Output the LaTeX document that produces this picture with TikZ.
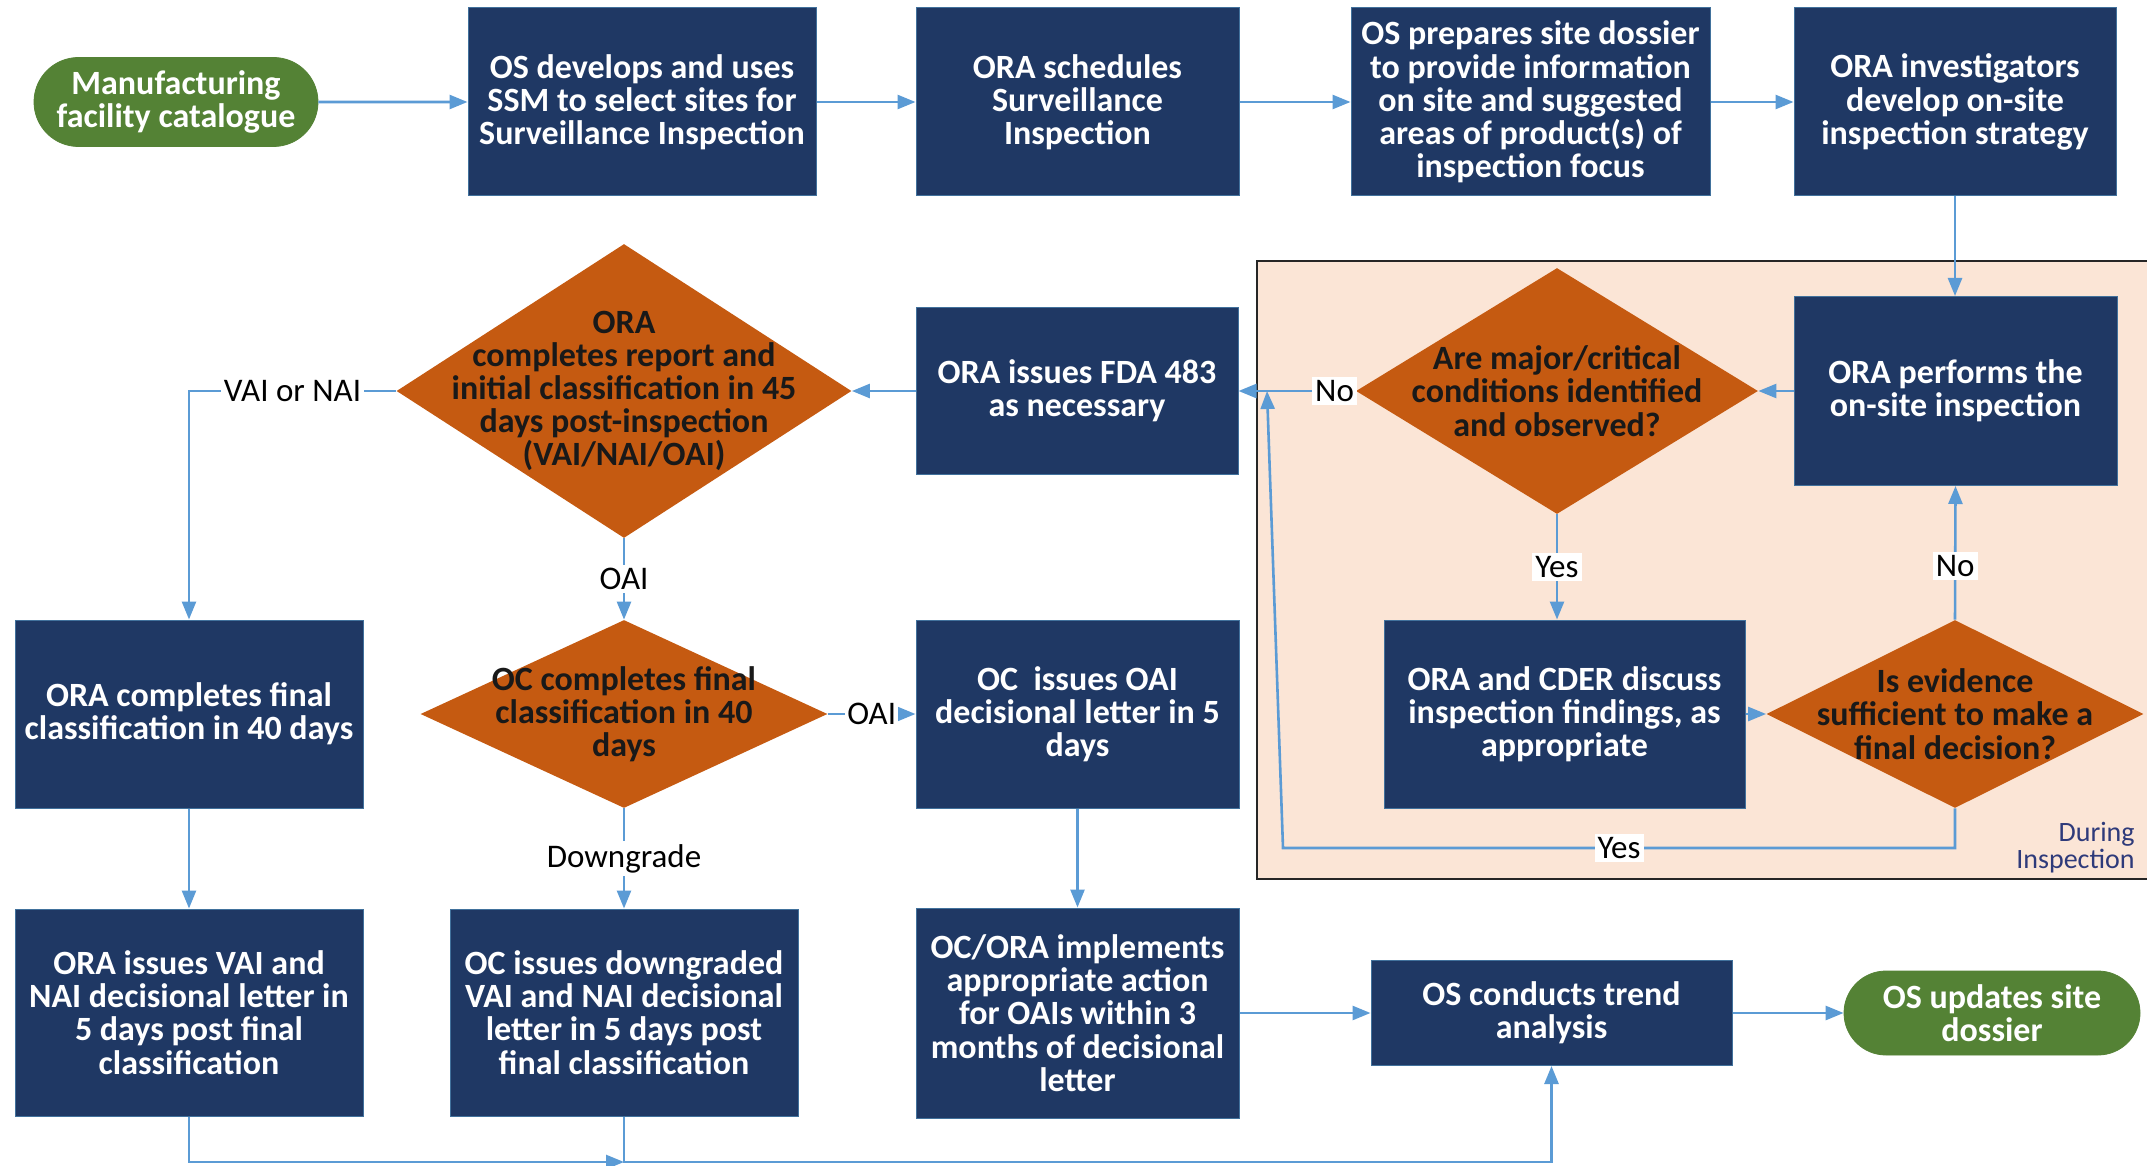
\documentclass[tikz,border=0pt]{standalone}
\usepackage{fontspec}
\setmainfont{Carlito}
\usetikzlibrary{arrows.meta,shapes.geometric,shapes.misc}

\definecolor{navy}{HTML}{1F3864}
\definecolor{rust}{HTML}{C55A11}
\definecolor{leaf}{HTML}{548235}
\definecolor{peach}{HTML}{FBE5D6}
\definecolor{flow}{HTML}{5B9BD5}
\definecolor{rim}{HTML}{41719C}
\definecolor{inknavy}{HTML}{2E3A7A}

\newcommand\boxfont{\bfseries\fontsize{17}{16.6}\selectfont}
\newcommand\tagfont{\fontsize{16.5}{18}\selectfont}

\tikzset{
  sz/.style 2 args={minimum width=#1*0.5pt, minimum height=#2*0.5pt},
  proc/.style={rectangle, fill=navy, draw=rim, line width=0.5pt, text=white,
    font=\boxfont, align=center, inner sep=0pt},
  term/.style={rounded rectangle, fill=leaf, draw=leaf, text=white,
    font=\boxfont, align=center, inner sep=0pt},
  dec/.style={diamond, fill=rust, inner sep=0pt},
  dectext/.style={text=black!90, font=\boxfont, align=center, inner sep=0pt},
  flowline/.style={draw=flow, line width=1.3pt, -{Triangle[length=9pt,width=7pt]}},
  flowplain/.style={draw=flow, line width=1.3pt},
  tag/.style={fill=white, font=\tagfont, text=black, inner sep=1.5pt},
}

\begin{document}
\begin{tikzpicture}[x=0.5pt, y=-0.5pt]
\useasboundingbox (0,0) rectangle (2147,1166);
\fill[white] (0,0) rectangle (2147,1166);

% inspection phase frame
\draw[fill=peach, draw=black!85, line width=1pt] (1257,261) rectangle (2170,879);
\node[anchor=south east, align=right, text=inknavy, inner sep=0pt,
      font=\fontsize{14}{12}\selectfont] (phase) at (2135,873) {During\\Inspection};

% top row
\node[term, sz={284}{89}] (start) at (176,102) {Manufacturing\\facility catalogue};
\node[proc, sz={348}{188}] (ssm) at (642,102) {OS develops and uses\\SSM to select sites for\\Surveillance Inspection};
\node[proc, sz={323}{188}] (sched) at (1077.5,102) {ORA schedules\\Surveillance\\Inspection};
\node[proc, sz={359}{188}] (dossier) at (1530.5,102) {OS prepares site dossier\\to provide information\\on site and suggested\\areas of product(s) of\\inspection focus};
\node[proc, sz={322}{188}] (strategy) at (1955,102) {ORA investigators\\develop on-site\\inspection strategy};

% second row
\node[proc, sz={323}{189}] (perform) at (1955.5,391) {ORA performs the\\on-site inspection};
\node[dec, sz={402}{246}] (major) at (1557,391) {};
\node[dectext] (majort) at (major) {Are major/critical\\conditions identified\\and observed?};
\node[proc, sz={322}{166}] (fda) at (1077,391) {ORA issues FDA 483\\as necessary};
\node[dec, sz={455}{294}] (report) at (624,391) {};
\node[dectext] (reportt) at (report) {ORA\\completes report and\\initial classification in 45\\days post-inspection\\(VAI/NAI/OAI)};

% third row
\node[proc, sz={348}{188}] (orafinal) at (189,714) {ORA completes final\\classification in 40 days};
\node[dec, sz={407}{188}] (ocfinal) at (624,714) {};
\node[dectext] (ocfinalt) at (ocfinal) {OC completes final\\classification in 40\\days};
\node[proc, sz={323}{188}] (oailetter) at (1077.5,714) {OC\ \ issues OAI\\decisional letter in 5\\days};
\node[proc, sz={361}{188}] (discuss) at (1564.5,714) {ORA and CDER discuss\\inspection findings, as\\appropriate};
\node[dec, sz={377}{188}] (evidence) at (1955,714) {};
\node[dectext] (evidencet) at (evidence) {Is evidence\\sufficient to make a\\final decision?};

% bottom row
\node[proc, sz={348}{207}] (vailetter) at (189,1012.5) {ORA issues VAI and\\NAI decisional letter in\\5 days post final\\classification};
\node[proc, sz={348}{207}] (downletter) at (624,1012.5) {OC issues downgraded\\VAI and NAI decisional\\letter in 5 days post\\final classification};
\node[proc, sz={323}{210}] (action) at (1077.5,1013) {OC/ORA implements\\appropriate action\\for OAIs within 3\\months of decisional\\letter};
\node[proc, sz={361}{105}] (trend) at (1551.5,1013) {OS conducts trend\\analysis};
\node[term, sz={296}{84}] (update) at (1992,1013) {OS updates site\\dossier};

% helper points for routed connectors
\coordinate (join) at (624,1162);
\coordinate (loop) at (1283,848);
\coordinate (loopend) at (1267,391);

% connectors
\draw[flowline] (start) -- (ssm);
\draw[flowline] (ssm) -- (sched);
\draw[flowline] (sched) -- (dossier);
\draw[flowline] (dossier) -- (strategy);
\draw[flowline] (strategy.south) -- (strategy.south |- perform.north);
\draw[flowline] (perform.west) -- (major.east);
\draw[flowline] (major.west) -- node[tag, pos=0.18] (tno) {No} (fda.east);
\draw[flowline] (major.south) -- node[tag] (tyes) {Yes} (major.south |- discuss.north);
\draw[flowline] (discuss.east) -- (evidence.west);
\draw[flowline] (evidence.north) -- node[tag, pos=0.4] (tno2) {No} (perform.south);
\draw[flowline] (evidence.south) -- (evidence.south |- loop)
  -- node[tag] (tyes2) {Yes} (loop) -- (loopend);
\draw[flowline] (fda.west) -- (report.east);
\draw[flowline] (report.west) -| node[tag, pos=0.25] (tvai) {VAI or NAI} (orafinal.north);
\draw[flowline] (report.south) -- node[tag] (toai) {OAI} (ocfinal.north);
\draw[flowline] (ocfinal.east) -- node[tag, inner xsep=1pt] (toai2) {OAI} (oailetter.west);
\draw[flowline] (ocfinal.south) -- node[tag] (tdown) {Downgrade} (downletter.north);
\draw[flowline] (orafinal.south) -- (vailetter.north);
\draw[flowline] (oailetter.south) -- (action.north);
\draw[flowline] (action.east) -- (trend.west);
\draw[flowline] (trend.east) -- (update.west);
\draw[flowline] (vailetter.south) |- (join);
\draw[flowline] (downletter.south) -- (join) -| (trend.south);
\end{tikzpicture}
\end{document}
